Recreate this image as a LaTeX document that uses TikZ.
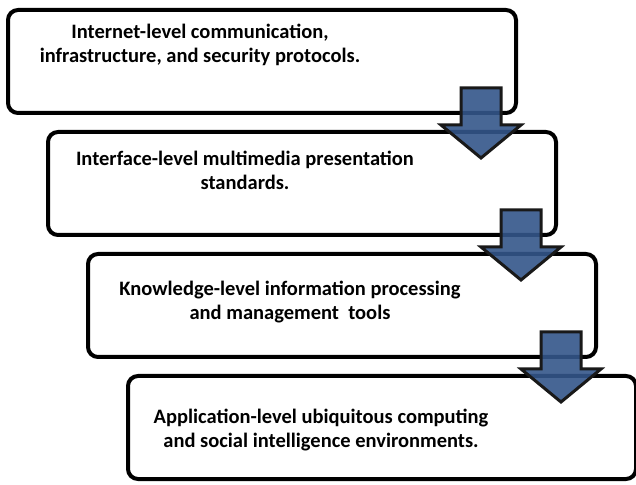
\documentclass[tikz,border=0pt]{standalone}
\usepackage{fontspec}
\setmainfont{Carlito}
\usetikzlibrary{positioning}
\definecolor{arrowblue}{RGB}{52,86,138}
\tikzset{
  levelbox/.style={draw, fill=white, line width=4pt, rounded corners=10pt,
    minimum width=508pt, minimum height=103pt, inner sep=0pt},
  leveltext/.style={align=center, inner sep=0pt,
    font=\fontsize{20.5}{24}\selectfont\bfseries},
  blockarrow/.style={draw=black!90, line width=3pt, fill=arrowblue,
    fill opacity=0.9, line join=miter}
}
\begin{document}
\begin{tikzpicture}[x=1pt, y=1pt, node distance=15pt]
\useasboundingbox (0,0) rectangle (636,484);

% the four levels, each one step down and to the right
\node[levelbox] (box1) at (262,422.5) {};
\node[levelbox, below=of box1, xshift=40pt] (box2) {};
\node[levelbox, below=of box2, xshift=40pt] (box3) {};
\node[levelbox, below=of box3, xshift=40pt] (box4) {};

\node[leveltext] (text1) at ([shift={(194,-37)}]box1.north west)
  {Internet-level communication,\\ infrastructure, and security protocols.};
\node[leveltext] (text2) at ([shift={(199,-40)}]box2.north west)
  {Interface-level multimedia presentation\\ standards.};
\node[leveltext] (text3) at ([shift={(204,-50)}]box3.north west)
  {Knowledge-level information processing\\ and management\ \ tools};
\node[leveltext] (text4) at ([shift={(195,-56)}]box4.north west)
  {Application-level ubiquitous computing\\ and social intelligence environments.};

% block arrows from one level to the next
\foreach \b in {box1,box2,box3} {
  \path[blockarrow] ([shift={(-57,27)}]\b.south east) -- ++(40,0) -- ++(0,-37)
    -- ++(20,0) -- ++(-40,-33) -- ++(-40,33) -- ++(20,0) -- cycle;
}
\end{tikzpicture}
\end{document}
